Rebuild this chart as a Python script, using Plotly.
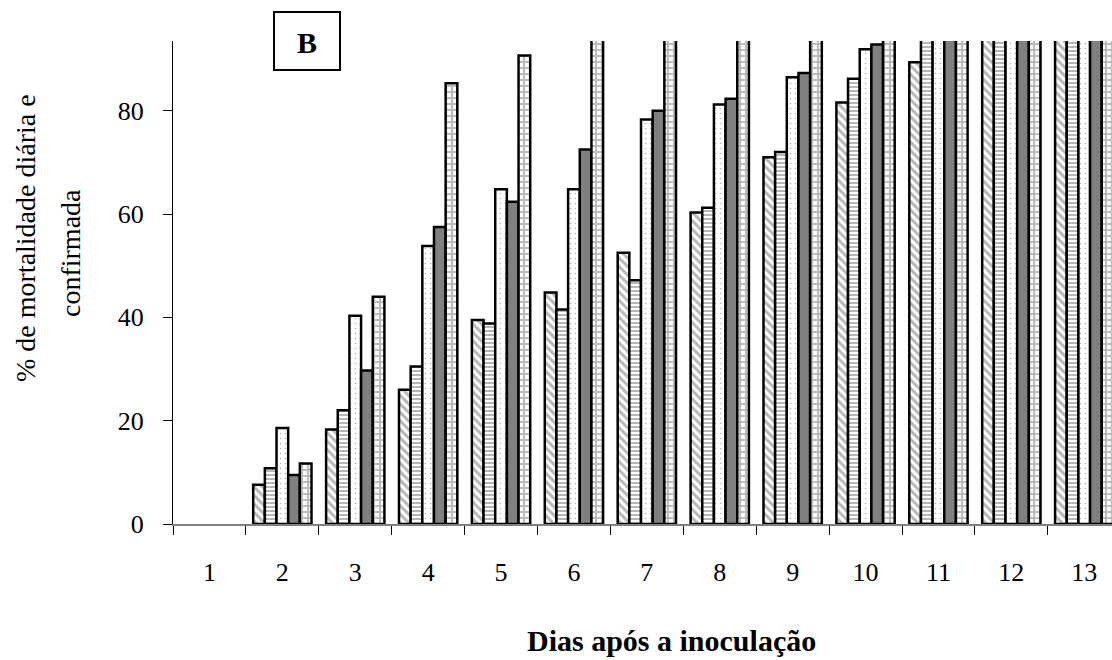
import plotly.graph_objects as go

days = list(range(1, 14))
day_labels = [str(d) for d in days]

# five treatments per day (% cumulative mortality); 100 values are clipped by the axis top
s_diag = [0, 7.6, 18.3, 26.0, 39.5, 44.8, 52.5, 60.3, 71.0, 81.6, 89.4, 100, 100]
s_horiz = [0, 10.8, 22.0, 30.5, 38.8, 41.5, 47.2, 61.2, 72.0, 86.2, 100, 100, 100]
s_dots = [0, 18.6, 40.3, 53.8, 64.8, 64.8, 78.3, 81.2, 86.5, 91.9, 100, 100, 100]
s_gray = [0, 9.5, 29.7, 57.5, 62.4, 72.5, 80.0, 82.3, 87.3, 92.8, 100, 100, 100]
s_check = [0, 11.7, 44.0, 85.3, 90.7, 100, 100, 100, 100, 100, 100, 100, 100]

series = [
    ("A", s_diag, dict(shape="\\", fgcolor="#707070", bgcolor="white", size=6, solidity=0.5)),
    ("B", s_horiz, dict(shape="-", fgcolor="#707070", bgcolor="white", size=4, solidity=0.5)),
    ("C", s_dots, dict(shape=".", fgcolor="#606060", bgcolor="white", size=5, solidity=0.08)),
    ("D", s_gray, None),
    ("E", s_check, dict(shape="+", fgcolor="#7a7a7a", bgcolor="white", size=6, solidity=0.6)),
]

fig = go.Figure()
for name, vals, pat in series:
    marker = dict(line=dict(color="black", width=[0 if v == 0 else 2.5 for v in vals]))
    if pat is None:
        marker["color"] = "#808080"
    else:
        marker["color"] = "white"
        marker["pattern"] = pat
    fig.add_trace(go.Bar(x=days, y=vals, name=name, marker=marker))

serif = "Liberation Serif, Times New Roman, serif"
W, H = 1112, 660
L, T, B = 173, 41, 136
cat_px = 72.9
x_end = 0.5 + (W - L) / cat_px

fig.update_layout(
    width=W, height=H,
    margin=dict(l=L, r=0, t=T, b=B),
    paper_bgcolor="white", plot_bgcolor="white",
    barmode="group", bargap=0.2, bargroupgap=0,
    showlegend=False,
    font=dict(family=serif, color="black"),
)
fig.update_xaxes(
    range=[0.5, x_end], tickmode="array", tickvals=days, ticktext=day_labels,
    ticks="", showgrid=False, zeroline=False,
    showline=True, linecolor="#808080", linewidth=2,
    tickfont=dict(family=serif, size=26, color="black"),
    ticklabelstandoff=24,
    minor=dict(tickmode="array", tickvals=[d - 0.5 for d in days] + [13.5],
               ticks="outside", ticklen=9, tickcolor="black", tickwidth=1, showgrid=False),
)
fig.update_yaxes(
    range=[0, 93.5], tickmode="array", tickvals=[0, 20, 40, 60, 80],
    ticks="outside", ticklen=9, tickcolor="black", tickwidth=1,
    showgrid=False, zeroline=False,
    showline=True, linecolor="black", linewidth=1,
    tickfont=dict(family=serif, size=26, color="black"),
    ticklabelstandoff=14,
)

pw, ph = W - L, H - T - B
def px(x):
    return (x - L) / pw
def py(y):
    return (H - B - y) / ph

fig.add_shape(type="rect", xref="paper", yref="paper",
              x0=px(274), x1=px(340), y0=py(70), y1=py(12),
              line=dict(color="black", width=2), fillcolor="white", layer="above")
fig.add_annotation(text="<b>B</b>", xref="paper", yref="paper", x=px(307), y=py(42),
                   showarrow=False, font=dict(family=serif, size=30, color="black"),
                   xanchor="center", yanchor="middle")
fig.add_annotation(text="<b>Dias após a inoculação</b>", xref="paper", yref="paper",
                   x=px(671), y=py(640), showarrow=False,
                   font=dict(family=serif, size=30, color="black"),
                   xanchor="center", yanchor="middle")
fig.add_annotation(text="% de mortalidade diária e", xref="paper", yref="paper",
                   x=px(26), y=py(238), showarrow=False, textangle=-90,
                   font=dict(family=serif, size=28, color="black"),
                   xanchor="center", yanchor="middle")
fig.add_annotation(text="confirmada", xref="paper", yref="paper",
                   x=px(70), y=py(253), showarrow=False, textangle=-90,
                   font=dict(family=serif, size=28, color="black"),
                   xanchor="center", yanchor="middle")

fig.write_html("out.html", config={"displayModeBar": False},
               post_script="document.body.style.margin='0';document.body.style.overflow='hidden';")
